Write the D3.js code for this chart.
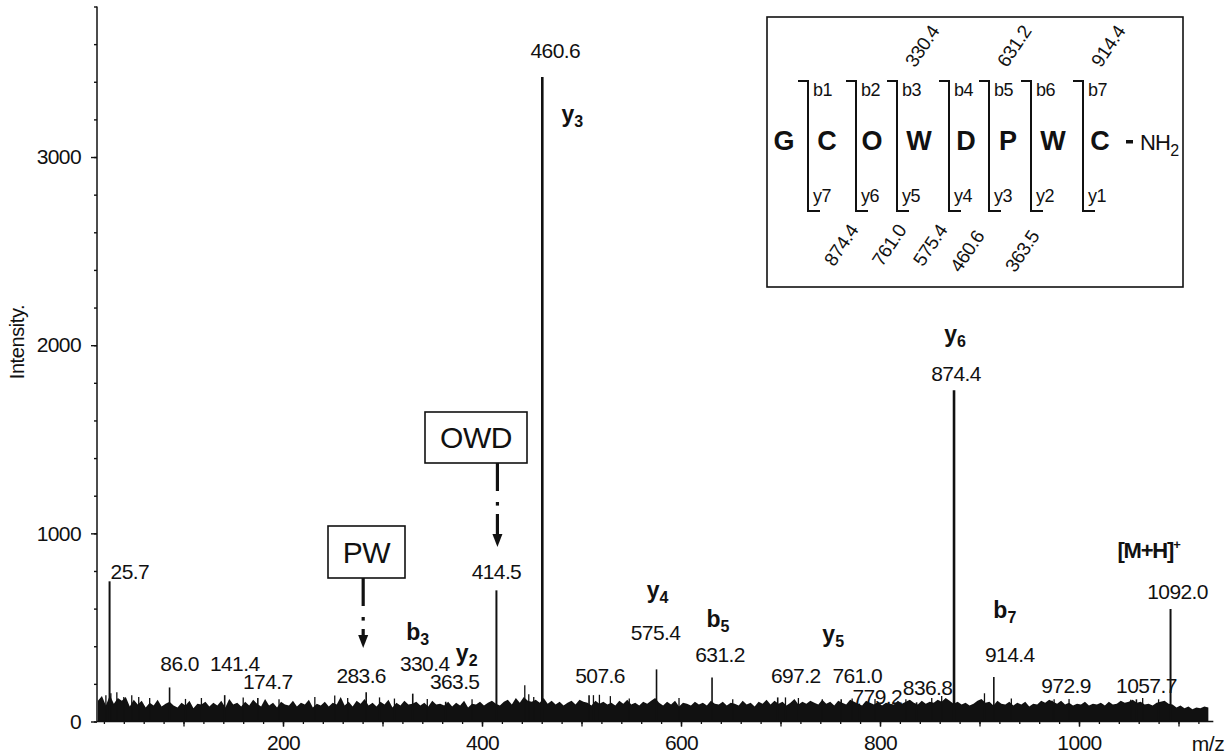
<!DOCTYPE html>
<html><head><meta charset="utf-8">
<script src="https://cdn.jsdelivr.net/npm/d3@7"></script>
<style>
body{margin:0;background:#fff}
text{font-family:"Liberation Sans",Arial,Helvetica,sans-serif;fill:#111}
</style>
</head><body><svg id="c" width="1232" height="756"></svg>
<script>
// ---------- DATA ----------
const xTickValues=[200,400,600,800,1000];
const yTickValues=[0,1000,2000,3000];
const peakMz=[25.7,86.0,141.4,174.7,283.6,330.4,363.5,414.5,460.6,507.6,575.4,631.2,697.2,761.0,779.2,836.8,874.4,914.4,972.9,1057.7,1092.0];
const peakIntensity=[745,181,140,125,155,148,105,697,3425,140,277,234,128,118,95,102,1760,236,110,118,598];
const peakLabels=peakMz.map(d=>d.toFixed(1));
const minorMz=[22,27,33,40,48,55,66,102,118,160,196,232,252,265,297,312,345,390,443,447,452,512,518,529,548,598,652,705,718,742,772,795,826,852,862,905,932,975,990,1052,1064,1080];
const minorIntensity=[140,150,155,130,140,130,125,120,125,128,118,130,138,125,128,122,120,118,192,145,130,140,142,135,122,125,118,128,125,118,122,120,118,125,135,150,122,118,120,115,125,118];
const ionNames=["y3","y6","[M+H]","y4","b5","y5","b7","b3","y2"];
const ionMz=[460.6,874.4,1092.0,575.4,631.2,761.0,914.4,330.4,363.5];
const boxLabels=["OWD","PW"];
const boxMz=[414.5,283.6];
const residues=["G","C","O","W","D","P","W","C"];
const bIons=["b1","b2","b3","b4","b5","b6","b7"];
const yIons=["y7","y6","y5","y4","y3","y2","y1"];
const bMasses=["","","330.4","","631.2","","914.4"];
const yMasses=["874.4","761.0","575.4","460.6","363.5","",""];
const noiseStart=14, noiseStep=4;
const noise=[
110,135,85,140,95,125,110,130,80,115,
90,110,75,100,85,115,80,95,105,85,
75,100,85,110,70,95,90,105,80,100,
85,110,75,120,90,100,80,105,85,115,
95,80,120,85,100,75,105,90,85,110,
80,100,90,115,75,95,85,105,80,100,
90,130,85,105,80,110,95,120,85,100,
80,105,90,115,75,100,85,110,90,95,
105,85,100,80,110,90,95,85,105,80,
100,85,110,75,95,90,105,85,100,110,
95,85,105,115,90,125,100,130,110,105,
115,100,125,95,110,90,105,85,100,110,
90,115,105,100,85,110,95,105,90,100,
85,110,95,115,90,100,85,105,95,110,
125,100,85,105,90,110,80,100,95,85,
105,90,100,85,110,95,90,105,85,100,
95,85,110,90,100,80,105,95,115,90,
110,95,105,85,100,120,90,105,95,110,
100,90,115,95,105,85,110,100,90,115,
105,95,85,110,100,90,105,85,100,95,
90,110,95,105,115,100,90,110,95,105,
100,115,105,125,110,95,105,90,100,85,
95,110,120,100,105,85,110,95,90,105,
85,100,90,105,80,95,90,110,100,115,
105,95,110,90,100,85,95,90,105,85,
95,90,100,85,105,90,95,110,100,105,
115,100,105,90,95,85,100,105,110,95,
90,75,85,70,80,65,75,70,80,75];

// ---------- LAYOUT ----------
const svg=d3.select("#c");
const x=d3.scaleLinear().domain([0,1000]).range([84,1079]);
const y=d3.scaleLinear().domain([0,3800]).range([721.5,6.5]);
const xMax=1135;
const ink="#111";
const FONT="Liberation Sans, Arial, sans-serif";
const labelLayout=[[1,571,"start"],[10,663],[10,663],[10,681],[-5,675],[12,663],[9,681],[0,571],[13,50],[11,675],[-1,632],[8,654],[18,675],[16,675],[18,696],[11,687],[2,373],[16,654],[14,685],[10,685],[7,591]];
const ionLayout=[[30,117],[1,337],[-22,553],[1,593],[6,622],[-8,637],[11,613],[5,635],[21,656]];

// ---------- NOISE ----------
const nd=noise.map((v,i)=>({m:noiseStart+i*noiseStep,v}));
svg.append("path").datum(nd)
 .attr("d",d3.area().x(d=>x(d.m)).y0(y(0)).y1(d=>y(d.v)))
 .attr("fill",ink);
svg.append("g").selectAll("line").data(minorMz).join("line")
 .attr("x1",d=>x(d)).attr("x2",d=>x(d))
 .attr("y1",y(0)).attr("y2",(d,i)=>y(minorIntensity[i]))
 .attr("stroke",ink).attr("stroke-width",1.3);
svg.append("g").selectAll("line").data(peakMz).join("line")
 .attr("x1",d=>x(d)).attr("x2",d=>x(d))
 .attr("y1",y(0)).attr("y2",(d,i)=>y(peakIntensity[i]))
 .attr("stroke",ink).attr("stroke-width",(d,i)=>peakIntensity[i]>1500?2.6:(peakIntensity[i]>400?2:1.6));

// ---------- AXES ----------
const gy=svg.append("g").attr("transform","translate(97,0)");
gy.append("g").call(d3.axisLeft(y).tickValues(d3.range(0,3801,200)).tickSize(3).tickFormat(""))
 .call(g=>g.select(".domain").remove());
gy.append("g").call(d3.axisLeft(y).tickValues(yTickValues).tickSize(6).tickPadding(10).tickFormat(d3.format("d")))
 .call(g=>g.select(".domain").remove())
 .call(g=>g.selectAll("text").attr("font-size",21).attr("letter-spacing",-0.6).style("font-family",FONT).attr("fill",ink));
gy.append("line").attr("x1",0).attr("x2",0).attr("y1",y(0)).attr("y2",y(3800)).attr("stroke",ink).attr("stroke-width",1.5);
gy.selectAll(".tick line").attr("stroke",ink).attr("stroke-width",1.4);

const gx=svg.append("g").attr("transform",`translate(0,${y(0)})`);
gx.append("g").call(d3.axisBottom(x).tickValues(d3.range(20,1121,20)).tickSize(2.5).tickFormat(""))
 .call(g=>g.select(".domain").remove());
gx.append("g").call(d3.axisBottom(x).tickValues(d3.range(100,1101,100)).tickSize(5).tickFormat(""))
 .call(g=>g.select(".domain").remove());
gx.append("g").call(d3.axisBottom(x).tickValues(xTickValues).tickSize(5).tickPadding(9).tickFormat(d3.format("d")))
 .call(g=>g.select(".domain").remove())
 .call(g=>g.selectAll("text").attr("font-size",21).attr("letter-spacing",-0.6).style("font-family",FONT).attr("fill",ink));
gx.append("line").attr("x1",97).attr("x2",x(xMax)).attr("y1",0).attr("y2",0).attr("stroke",ink).attr("stroke-width",1.5);
gx.selectAll(".tick line").attr("stroke",ink).attr("stroke-width",1.3);
svg.append("text").attr("x",1208).attr("y",751).attr("text-anchor","middle").attr("font-size",21).attr("letter-spacing",-0.5).text("m/z");
svg.append("text").attr("transform","translate(24,342) rotate(-90)").attr("text-anchor","middle").attr("font-size",20).attr("letter-spacing",-0.4).text("Intensity.");

// ---------- PEAK LABELS ----------
svg.append("g").selectAll("text").data(peakLabels).join("text")
 .attr("x",(d,i)=>x(peakMz[i])+labelLayout[i][0])
 .attr("y",(d,i)=>labelLayout[i][1]+7.5)
 .attr("text-anchor",(d,i)=>labelLayout[i][2]||"middle")
 .attr("font-size",21).attr("letter-spacing",-0.6).text(d=>d);

ionNames.forEach((n,i)=>{
  const t=svg.append("text")
   .attr("x",x(ionMz[i])+ionLayout[i][0]).attr("y",ionLayout[i][1]+5)
   .attr("text-anchor","middle").attr("font-weight","bold").attr("font-size",23);
  if(n==="[M+H]"){
    t.attr("font-size",22).attr("letter-spacing",-1.2).text(n);
    t.append("tspan").attr("dy",-9).attr("font-size",13).text("+");
  } else {
    t.append("tspan").text(n[0]);
    t.append("tspan").attr("dy",5).attr("font-size",16).text(n.slice(1));
  }
});

// ---------- BOXES & ARROWS ----------
const boxLayout=[{bx:425,by:412,bw:102,bh:51,ax:1,tip:547},{bx:328,by:526,bw:77,bh:52,ax:-3,tip:648}];
boxLabels.forEach((lab,i)=>{
  const L=boxLayout[i];
  svg.append("rect").attr("x",L.bx).attr("y",L.by).attr("width",L.bw).attr("height",L.bh)
   .attr("fill","none").attr("stroke",ink).attr("stroke-width",1.6);
  svg.append("text").attr("x",L.bx+L.bw/2).attr("y",L.by+L.bh/2+10.5).attr("text-anchor","middle")
   .attr("font-size",30).attr("letter-spacing",-0.5).text(lab);
  const ax=x(boxMz[i])+L.ax, top=L.by+L.bh;
  svg.append("line").attr("x1",ax).attr("x2",ax).attr("y1",top).attr("y2",top+28).attr("stroke",ink).attr("stroke-width",3.2);
  svg.append("rect").attr("x",ax-1.6).attr("y",top+39).attr("width",3.2).attr("height",3.6).attr("fill",ink);
  svg.append("line").attr("x1",ax).attr("x2",ax).attr("y1",top+51).attr("y2",L.tip-8).attr("stroke",ink).attr("stroke-width",3.2);
  svg.append("path").attr("d",`M${ax-5},${L.tip-13}L${ax+5},${L.tip-13}L${ax},${L.tip}Z`).attr("fill",ink);
});

// ---------- INSET ----------
svg.append("rect").attr("x",767).attr("y",17).attr("width",416).attr("height",270)
 .attr("fill","none").attr("stroke",ink).attr("stroke-width",1.6);
const resX=[784,827,872,919,966,1008,1053,1100];
residues.forEach((r,i)=>{
  svg.append("text").attr("x",resX[i]).attr("y",150).attr("text-anchor","middle")
   .attr("font-weight","bold").attr("font-size",27).text(r);
});
svg.append("rect").attr("x",1126).attr("y",140).attr("width",7).attr("height",3.5).attr("fill",ink);
const nh=svg.append("text").attr("x",1140).attr("y",150).attr("font-size",22).attr("letter-spacing",-0.8);
nh.append("tspan").text("NH");
nh.append("tspan").attr("dy",6).attr("font-size",16).text("2");
const brX=[808,856,897,949,989,1031,1083];
brX.forEach((bx,i)=>{
  svg.append("path").attr("d",`M${bx-10},81H${bx}V211H${bx+12}`)
   .attr("fill","none").attr("stroke",ink).attr("stroke-width",2);
  svg.append("text").attr("x",bx+5).attr("y",96).attr("font-size",18).attr("letter-spacing",-0.5).text(bIons[i]);
  svg.append("text").attr("x",bx+5).attr("y",202).attr("font-size",18).attr("letter-spacing",-0.5).text(yIons[i]);
  if(bMasses[i]) svg.append("text").attr("transform",`translate(${bx+25},${46}) rotate(-56)`)
     .attr("text-anchor","middle").attr("dy","0.35em").attr("font-size",19).attr("letter-spacing",-0.5).text(bMasses[i]);
  if(yMasses[i]) svg.append("text").attr("transform",`translate(${bx+(i===3?18:33)},${i===3||i===4?251:245}) rotate(-56)`)
     .attr("text-anchor","middle").attr("dy","0.35em").attr("font-size",19).attr("letter-spacing",-0.5).text(yMasses[i]);
});
</script>
</body></html>
